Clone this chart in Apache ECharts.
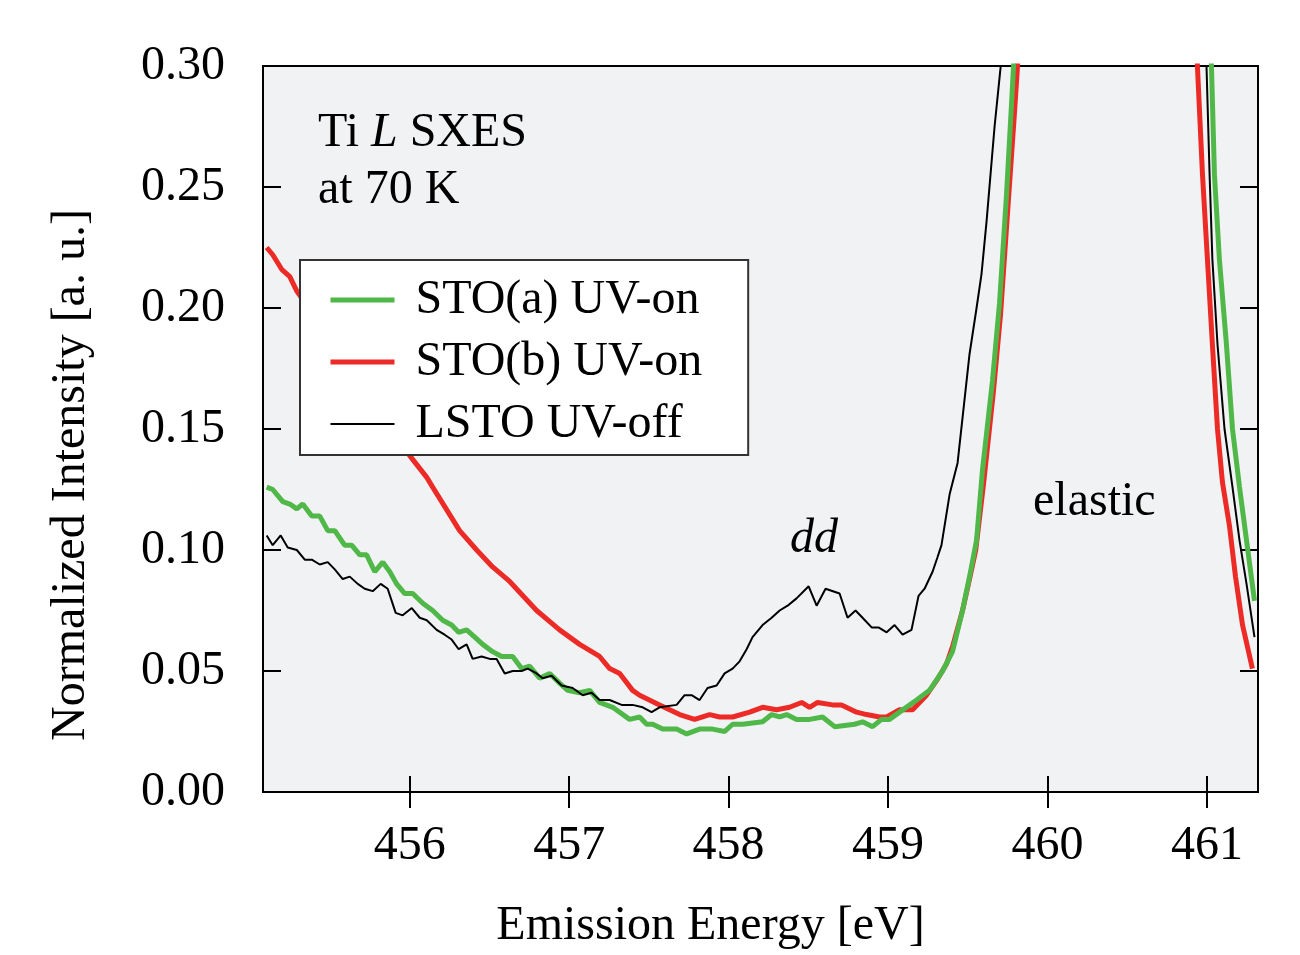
<!DOCTYPE html>
<html lang="en">
<head>
<meta charset="UTF-8">
<title>Ti L SXES</title>
<script src="https://cdn.jsdelivr.net/npm/echarts@6/dist/echarts.min.js"></script>
<style>
  html, body { margin: 0; padding: 0; background: #fff; }
  #main { width: 1300px; height: 955px; }
</style>
</head>
<body>
<div id="main"></div>
<script>
// data: [emission energy (eV), normalized intensity]
// null marks the part of the elastic peak that runs above the frame
var stoA = [
  [455.103,0.126],[455.141,0.125],[455.204,0.120],[455.248,0.119],[455.292,0.117],[455.329,0.119],
  [455.386,0.114],[455.436,0.114],[455.486,0.108],[455.530,0.108],[455.592,0.102],[455.636,0.102],
  [455.687,0.098],[455.730,0.098],[455.781,0.091],[455.831,0.095],[455.875,0.091],[455.918,0.086],
  [455.969,0.082],[456.019,0.082],[456.082,0.078],[456.144,0.075],[456.207,0.071],[456.263,0.069],
  [456.307,0.066],[456.357,0.067],[456.408,0.064],[456.458,0.061],[456.520,0.058],[456.577,0.056],
  [456.646,0.056],[456.702,0.051],[456.752,0.052],[456.815,0.047],[456.878,0.049],[456.940,0.045],
  [456.991,0.042],[457.066,0.041],[457.129,0.042],[457.191,0.037],[457.273,0.035],[457.379,0.030],
  [457.442,0.031],[457.486,0.028],[457.524,0.028],[457.586,0.026],[457.674,0.026],[457.737,0.024],
  [457.818,0.026],[457.900,0.026],[457.975,0.025],[458.025,0.028],[458.088,0.028],[458.213,0.029],
  [458.270,0.032],[458.320,0.031],[458.364,0.032],[458.426,0.030],[458.508,0.030],[458.589,0.031],
  [458.665,0.027],[458.790,0.028],[458.840,0.029],[458.903,0.027],[458.959,0.030],[459.009,0.030],
  [459.072,0.033],[459.179,0.038],[459.260,0.042],[459.342,0.050],[459.404,0.058],[459.467,0.075],
  [459.511,0.089],[459.555,0.104],[459.592,0.133],[459.655,0.170],[459.699,0.202],[459.743,0.247],
  [459.774,0.284],[459.787,0.300],[459.820,0.340],[460.400,null],
  [461.015,0.340],[461.028,0.300],[461.047,0.255],[461.078,0.220],[461.122,0.185],[461.160,0.150],
  [461.204,0.126],[461.248,0.104],[461.298,0.079]
];

var stoB = [
  [455.103,0.225],[455.141,0.222],[455.197,0.216],[455.248,0.213],[455.292,0.207],[455.450,0.192],
  [455.600,0.178],[455.750,0.163],[455.900,0.148],[456.000,0.139],[456.107,0.130],[456.144,0.126],
  [456.313,0.108],[456.420,0.100],[456.520,0.093],[456.627,0.087],[456.796,0.075],[456.940,0.067],
  [457.066,0.061],[457.191,0.056],[457.254,0.051],[457.317,0.049],[457.398,0.042],[457.442,0.040],
  [457.567,0.036],[457.693,0.032],[457.787,0.030],[457.881,0.032],[457.944,0.031],[458.025,0.031],
  [458.132,0.033],[458.213,0.035],[458.301,0.034],[458.382,0.035],[458.458,0.037],[458.508,0.035],
  [458.558,0.037],[458.652,0.036],[458.708,0.036],[458.803,0.033],[458.865,0.032],[458.947,0.031],
  [458.991,0.031],[459.072,0.034],[459.154,0.034],[459.241,0.040],[459.304,0.046],[459.367,0.053],
  [459.404,0.060],[459.467,0.075],[459.511,0.088],[459.550,0.100],[459.600,0.128],[459.660,0.165],
  [459.705,0.197],[459.750,0.240],[459.790,0.278],[459.812,0.300],[459.840,0.340],[460.400,null],
  [460.930,0.340],[460.940,0.300],[460.972,0.255],[461.003,0.220],[461.034,0.185],[461.066,0.150],
  [461.097,0.128],[461.141,0.110],[461.179,0.089],[461.223,0.069],[461.285,0.051]
];

var lsto = [
  [455.103,0.106],[455.141,0.102],[455.191,0.106],[455.235,0.101],[455.292,0.100],[455.342,0.096],
  [455.386,0.096],[455.436,0.094],[455.486,0.095],[455.530,0.092],[455.580,0.088],[455.624,0.089],
  [455.674,0.086],[455.718,0.084],[455.768,0.083],[455.818,0.086],[455.862,0.084],[455.912,0.074],
  [455.956,0.073],[456.013,0.076],[456.063,0.072],[456.107,0.071],[456.169,0.067],[456.219,0.065],
  [456.263,0.063],[456.307,0.059],[456.357,0.061],[456.395,0.055],[456.451,0.056],[456.502,0.055],
  [456.545,0.055],[456.596,0.049],[456.646,0.050],[456.702,0.050],[456.740,0.051],[456.796,0.049],
  [456.834,0.047],[456.890,0.048],[456.953,0.044],[457.022,0.043],[457.085,0.040],[457.141,0.041],
  [457.191,0.038],[457.254,0.038],[457.329,0.036],[457.398,0.036],[457.461,0.035],[457.517,0.033],
  [457.567,0.035],[457.674,0.036],[457.724,0.040],[457.768,0.040],[457.818,0.038],[457.868,0.043],
  [457.925,0.044],[457.975,0.049],[458.025,0.051],[458.069,0.054],[458.113,0.059],[458.150,0.064],
  [458.213,0.069],[458.270,0.072],[458.320,0.075],[458.370,0.077],[458.426,0.080],[458.502,0.085],
  [458.552,0.077],[458.608,0.084],[458.696,0.082],[458.746,0.072],[458.796,0.075],[458.840,0.072],
  [458.897,0.068],[458.940,0.068],[458.991,0.066],[459.041,0.069],[459.091,0.065],[459.147,0.067],
  [459.191,0.081],[459.229,0.084],[459.279,0.091],[459.310,0.097],[459.335,0.102],[459.386,0.123],
  [459.436,0.136],[459.511,0.181],[459.555,0.200],[459.586,0.214],[459.618,0.236],[459.668,0.275],
  [459.705,0.299],[459.720,0.320],[460.400,null],
  [460.990,0.320],[460.997,0.300],[461.016,0.256],[461.034,0.220],[461.066,0.185],[461.110,0.150],
  [461.160,0.126],[461.204,0.104],[461.248,0.086],[461.298,0.064]
];

var energyTicks = [456, 457, 458, 459, 460, 461];

var FONT = "'Liberation Serif', 'DejaVu Serif', serif";
var FS = 48;

var chartDom = document.getElementById('main');
var myChart = echarts.init(chartDom);
var option;

option = {
  backgroundColor: '#fff',
  animation: false,
  textStyle: { fontFamily: FONT, color: '#000' },
  grid: {
    left: 263, right: 42, top: 66, bottom: 160,
    show: true,
    backgroundColor: '#f1f2f4',
    borderColor: '#000',
    borderWidth: 2
  },
  legend: {
    orient: 'vertical',
    left: 300, top: 260,
    padding: [16, 46, 7, 28],
    itemGap: 14,
    itemWidth: 64,
    itemHeight: 20,
    backgroundColor: '#fff',
    borderColor: '#333',
    borderWidth: 2,
    itemStyle: { opacity: 0 },
    textStyle: { fontFamily: FONT, fontSize: FS, color: '#000', padding: [0, 0, 0, 16] },
    data: [
      { name: 'STO(a) UV-on', lineStyle: { width: 5 } },
      { name: 'STO(b) UV-on', lineStyle: { width: 5 } },
      { name: 'LSTO UV-off', lineStyle: { width: 2 } }
    ]
  },
  xAxis: [
    {
      type: 'value',
      min: 455.08, max: 461.32,
      name: 'Emission Energy [eV]',
      nameLocation: 'middle',
      nameGap: 110,
      nameTextStyle: { fontFamily: FONT, fontSize: FS, color: '#000', padding: [0, 100, 0, 0] },
      axisLine: { show: false },
      axisTick: { show: true, inside: true, length: 16, customValues: energyTicks,
        lineStyle: { color: '#000', width: 2 } },
      axisLabel: { customValues: energyTicks, margin: 30, fontFamily: FONT, fontSize: FS, color: '#000' },
      splitLine: { show: false }
    },
    {
      type: 'value',
      position: 'top',
      min: 455.08, max: 461.32,
      axisLine: { show: false },
      axisTick: { show: true, inside: true, length: 16, customValues: energyTicks,
        lineStyle: { color: '#000', width: 2 } },
      axisLabel: { show: false },
      splitLine: { show: false }
    }
  ],
  yAxis: [
    {
      type: 'value',
      min: 0, max: 0.3, interval: 0.05,
      name: 'Normalized Intensity [a. u.]',
      nameLocation: 'middle',
      nameGap: 168,
      nameTextStyle: { fontFamily: FONT, fontSize: FS, color: '#000', padding: [0, 92, 0, 0] },
      axisLine: { show: false },
      axisTick: { show: true, inside: true, length: 18, lineStyle: { color: '#000', width: 2 } },
      axisLabel: { margin: 38, fontFamily: FONT, fontSize: FS, color: '#000', padding: [5, 0, 0, 0],
        formatter: function (v) { return v.toFixed(2); } },
      splitLine: { show: false }
    },
    {
      type: 'value',
      position: 'right',
      min: 0, max: 0.3, interval: 0.05,
      axisLine: { show: false },
      axisTick: { show: true, inside: true, length: 18, lineStyle: { color: '#000', width: 2 } },
      axisLabel: { show: false },
      splitLine: { show: false }
    }
  ],
  series: [
    {
      name: 'STO(a) UV-on',
      type: 'line',
      data: stoA,
      symbol: 'none',
      clip: true,
      z: 3,
      color: '#4fb848',
      lineStyle: { color: '#4fb848', width: 5 }
    },
    {
      name: 'STO(b) UV-on',
      type: 'line',
      data: stoB,
      symbol: 'none',
      clip: true,
      z: 2,
      color: '#ec2b26',
      lineStyle: { color: '#ec2b26', width: 5 }
    },
    {
      name: 'LSTO UV-off',
      type: 'line',
      data: lsto,
      symbol: 'none',
      clip: true,
      z: 4,
      color: '#000',
      lineStyle: { color: '#000', width: 2 }
    }
  ],
  graphic: [
    {
      type: 'text', left: 318, top: 109, z: 10,
      style: {
        text: '{a|Ti }{i|L}{a| SXES}',
        rich: {
          a: { fontFamily: FONT, fontSize: FS, fill: '#000' },
          i: { fontFamily: FONT, fontSize: FS, fontStyle: 'italic', fill: '#000' }
        }
      }
    },
    {
      type: 'text', left: 318, top: 166, z: 10,
      style: { text: 'at 70 K', font: FS + 'px ' + FONT, fill: '#000' }
    },
    {
      type: 'text', left: 790, top: 515, z: 10,
      style: { text: 'dd', font: 'italic ' + FS + 'px ' + FONT, fill: '#000' }
    },
    {
      type: 'text', left: 1033, top: 478, z: 10,
      style: { text: 'elastic', font: FS + 'px ' + FONT, fill: '#000' }
    }
  ]
};

option && myChart.setOption(option);
</script>
</body>
</html>
